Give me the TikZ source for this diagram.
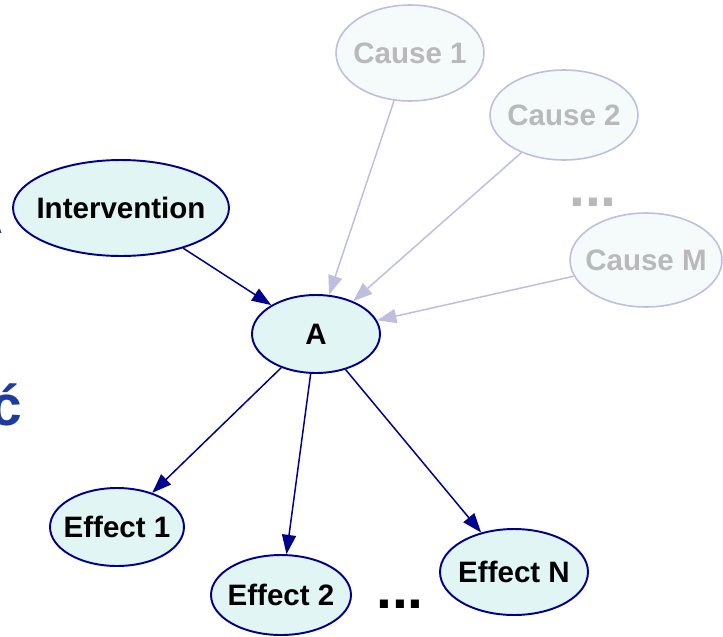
\documentclass[tikz,border=0pt]{standalone}
\usepackage{fontspec}
\setmainfont{Liberation Sans}
\usetikzlibrary{shapes.geometric,arrows.meta}
\definecolor{navy}{RGB}{0,0,140}
\definecolor{paleCyan}{RGB}{226,245,245}
\definecolor{faintBorder}{RGB}{190,190,225}
\definecolor{faintFill}{RGB}{245,250,251}
\definecolor{faintText}{RGB}{185,185,185}
\definecolor{faintEdge}{RGB}{190,190,222}
\definecolor{titleBlue}{RGB}{30,60,160}
\begin{document}
\begin{tikzpicture}[x=0.02cm, y=-0.02cm,
    var/.style={ellipse, draw=navy, fill=paleCyan, line width=1.1pt,
      inner xsep=-3cm, inner ysep=-1cm,
      font=\fontsize{16.8}{20}\selectfont\bfseries},
    hidden/.style={var, draw=faintBorder, fill=faintFill, text=faintText, line width=0.9pt},
    link/.style={draw=navy, line width=0.85pt, -{Triangle[length=11pt,width=8pt]}},
    faintlink/.style={link, draw=faintEdge},
    bigtext/.style={inner sep=0pt, font=\fontsize{32.4}{36}\selectfont\bfseries}]
        \useasboundingbox (0,0) rectangle (723,636);
        % causes
        \node[hidden, minimum width=2.96cm, minimum height=1.92cm] (c1) at (410,53)  {Cause 1};
        \node[hidden, minimum width=2.96cm, minimum height=1.80cm] (c2) at (564,115) {Cause 2};
        \node[hidden, minimum width=3.04cm, minimum height=1.88cm] (cm) at (646,260) {Cause M};
        \node[bigtext, text=faintText, anchor=base] (cdots) at (593,206) {...};
        % intervention and A
        \node[var, minimum width=4.32cm, minimum height=1.92cm] (iv) at (121,208) {Intervention};
        \node[var, minimum width=2.56cm, minimum height=1.56cm] (a)  at (316,334) {A};
        % effects
        \node[var, minimum width=2.68cm, minimum height=1.56cm] (e1) at (117,527) {Effect 1};
        \node[var, minimum width=2.80cm, minimum height=1.60cm] (e2) at (281,595) {Effect 2};
        \node[var, minimum width=2.96cm, minimum height=1.72cm] (en) at (514,572) {Effect N};
        \node[bigtext, anchor=base] (edots) at (400,608) {...};
        % cut-off title letters
        \node[bigtext, text=titleBlue, anchor=base east] (ta) at (4,233) {A};
        \node[bigtext, text=titleBlue, anchor=base east] (tc) at (23,425) {ć};
        \draw[faintlink] (c1) -- (a);
        \draw[faintlink] (c2) -- (a);
        \draw[faintlink] (cm) -- (a);
        \draw[link]      (iv) -- (a);
        \draw[link]      (a) -- (e1);
        \draw[link]      (a) -- (e2);
        \draw[link]      (a) -- (en);
\end{tikzpicture}
\end{document}
